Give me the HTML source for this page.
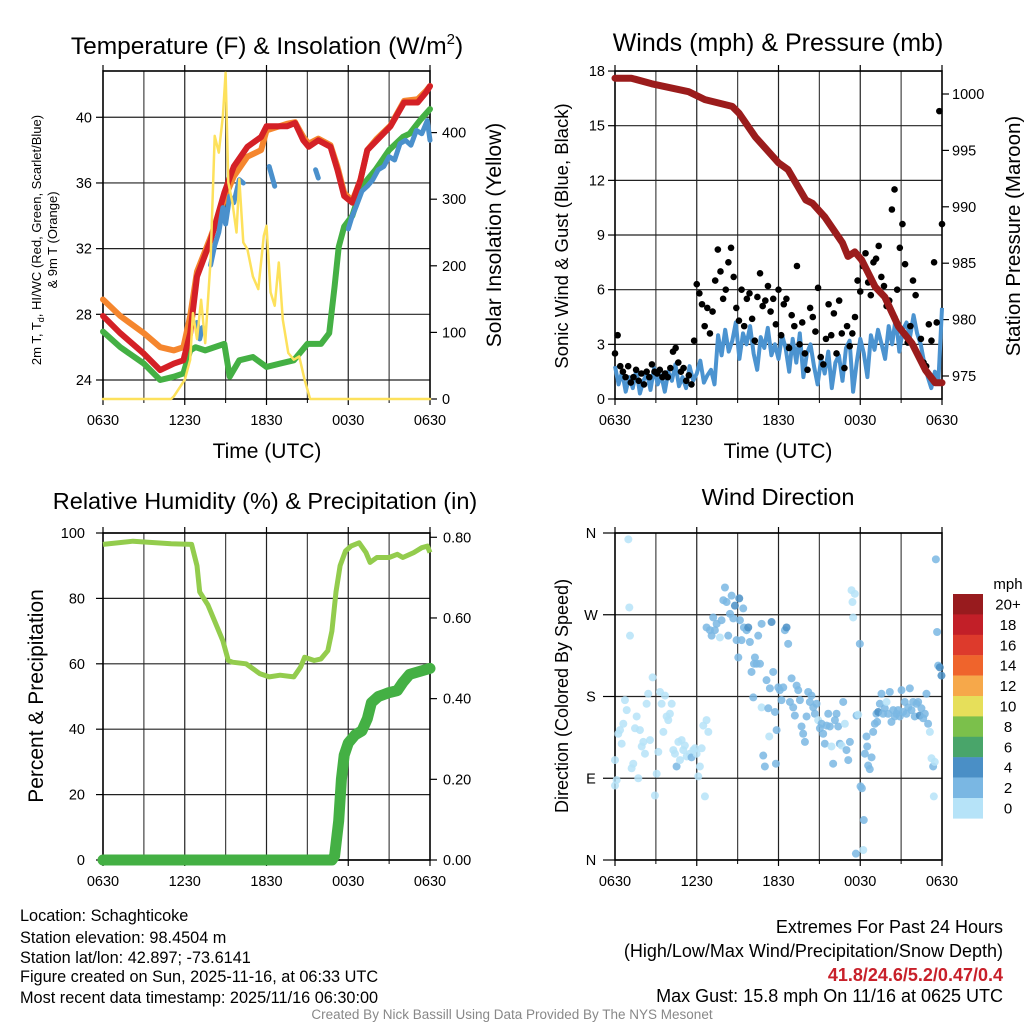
<!DOCTYPE html>
<html><head><meta charset="utf-8">
<style>
html,body{margin:0;padding:0;background:#fff;}
svg{display:block;font-family:"Liberation Sans",Arial,sans-serif;}
</style></head>
<body>
<svg id="chart" width="1024" height="1024" viewBox="0 0 1024 1024" xmlns="http://www.w3.org/2000/svg">
<rect width="1024" height="1024" fill="#fff"/>
<g id="p1"></g>
<g id="p2"></g>
<g id="p3"></g>
<g id="p4"></g>

<text x="267" y="54" font-size="24.5" text-anchor="middle">Temperature (F) &amp; Insolation (W/m<tspan font-size="15" dy="-10">2</tspan><tspan dy="10">)</tspan></text>
<text x="778" y="51" font-size="25" text-anchor="middle">Winds (mph) &amp; Pressure (mb)</text>
<text x="265" y="509" font-size="23.5" text-anchor="middle">Relative Humidity (%) &amp; Precipitation (in)</text>
<text x="778" y="505" font-size="23.5" text-anchor="middle">Wind Direction</text>

<text x="267" y="458" font-size="21" text-anchor="middle">Time (UTC)</text>
<text x="778" y="458" font-size="21" text-anchor="middle">Time (UTC)</text>

<g font-size="13" text-anchor="middle">
<text transform="translate(41,240) rotate(-90)">2m T, T<tspan font-size="9" dy="3">d</tspan><tspan dy="-3">, HI/WC (Red, Green, Scarlet/Blue)</tspan></text>
<text transform="translate(57,240) rotate(-90)">&amp; 9m T (Orange)</text>
</g>
<text transform="translate(501,235) rotate(-90)" font-size="21" text-anchor="middle">Solar Insolation (Yellow)</text>
<text transform="translate(568,236) rotate(-90)" font-size="18.5" text-anchor="middle">Sonic Wind &amp; Gust (Blue, Black)</text>
<text transform="translate(1020,236) rotate(-90)" font-size="20.5" text-anchor="middle">Station Pressure (Maroon)</text>
<text transform="translate(43,696) rotate(-90)" font-size="21" text-anchor="middle">Percent &amp; Precipitation</text>
<text transform="translate(568,696) rotate(-90)" font-size="18" text-anchor="middle">Direction (Colored By Speed)</text>

<g font-size="16.3">
<text x="20" y="921">Location: Schaghticoke</text>
<text x="20" y="943">Station elevation: 98.4504 m</text>
<text x="20" y="963">Station lat/lon: 42.897; -73.6141</text>
<text x="20" y="982">Figure created on Sun, 2025-11-16, at 06:33 UTC</text>
<text x="20" y="1003">Most recent data timestamp: 2025/11/16 06:30:00</text>
</g>
<g font-size="18" text-anchor="end">
<text x="1003" y="933">Extremes For Past 24 Hours</text>
<text x="1003" y="957">(High/Low/Max Wind/Precipitation/Snow Depth)</text>
<text x="1003" y="981" fill="#c8202a" font-weight="bold">41.8/24.6/5.2/0.47/0.4</text>
<text x="1003" y="1002">Max Gust: 15.8 mph On 11/16 at 0625 UTC</text>
</g>
<text x="512" y="1019" font-size="13.5" fill="#888" text-anchor="middle">Created By Nick Bassill Using Data Provided By The NYS Mesonet</text>
</svg>
<script>
// ---------- data ----------
const xTickLabels = ["0630","1230","1830","0030","0630"];
const redT = [0,1.27,3,4.2,5.2,5.9,6.4,6.9,7.9,8.9,9.6,10.6,11.6,12,13.5,14.1,14.7,15.1,15.8,16.7,17.2,17.7,18.3,18.9,19.4,20.1,21.1,22.1,23.1,23.7,24];
const redV = [27.9,26.85,25.6,24.6,25.0,25.2,26.85,30.3,32.5,35.4,37.0,38.2,38.8,39.45,39.45,39.65,38.6,38.2,38.6,38.2,36.8,35.2,34.8,36.2,38.0,38.6,39.45,40.9,40.9,41.5,41.9];
const orangeT = [0,1.27,3,4.2,5.2,5.9,6.4,6.9,7.9,8.9,9.6,10.6,11.6,12,13.5,14.1,14.7,15.1,15.8,16.7,17.2,17.7,18.3,18.9,19.4,20.1,21.1,22.1,23.1,23.7,24];
const orangeV = [28.9,27.9,26.85,26.0,25.8,26.0,27.9,30.6,32.7,35.0,36.4,37.6,38.0,39.2,39.6,39.7,38.8,38.4,38.7,38.3,37.0,35.4,34.9,36.2,38.0,38.7,39.5,41.0,41.1,41.6,41.9];
const greenT = [0,1.27,3,4.2,5.2,5.9,6.4,6.8,7.5,8.9,9.3,10,11,12,13,14,15,16,16.6,17,17.3,17.7,18.3,19,20,21,22,22.5,23.3,24];
const greenV = [26.95,26.0,25.0,24.0,24.2,24.4,25.8,26.0,25.8,26.2,24.2,25.2,25.4,24.8,25.0,25.2,26.2,26.2,26.85,29.7,32.1,33.35,34.0,35.8,36.8,38.0,38.8,39.0,39.85,40.5];
const blueT = [6.9,7.1,7.3,null,7.9,8.2,8.5,8.8,9.0,9.3,9.6,10.0,10.3,null,12.2,12.4,12.6,null,15.6,15.8,null,18.0,18.3,18.6,19.0,19.4,19.8,20.2,20.6,21.0,21.4,21.8,22.2,22.6,23.0,23.4,23.8,24];
const blueV = [27.5,26.5,27.2,null,31.0,32.2,33.0,34.5,33.5,35.2,34.8,36.2,36.0,null,37.0,36.4,35.8,null,36.8,36.3,null,33.2,34.0,34.6,35.5,35.8,36.2,36.8,37.0,37.6,37.4,38.4,38.6,38.3,39.2,39.0,39.8,38.6];
const solarT = [0,5,5.2,6,6.4,6.6,6.9,7.2,7.5,7.9,8.2,8.5,8.8,9.0,9.2,9.5,9.8,10,10.3,10.6,11,11.4,11.8,12,12.3,12.6,12.9,13.2,13.6,14,14.4,14.8,15.2,24];
const solarV = [0,0,4,29,59,129,90,149,84,209,395,370,425,490,325,295,250,330,235,225,184,165,245,260,160,140,205,119,69,59,64,29,0,0];
const windSpd = [1.8,0.8,1.5,0.4,1.2,0.6,1.6,0.3,1.0,1.4,0.5,1.7,0.8,1.3,0.4,1.5,1.0,1.9,0.7,1.2,0.6,1.8,1.0,1.4,2.1,0.9,1.3,1.6,0.8,
 3.5,2.4,3.8,2.6,3.2,4.2,2.2,3.6,3.0,4.0,2.5,1.6,3.4,2.8,3.9,2.4,3.0,2.2,3.5,
 2.8,1.5,3.3,2.0,3.6,1.2,2.5,3.0,1.8,0.8,2.2,1.4,2.6,0.6,2.0,
 2.4,1.0,2.8,3.2,0.4,2.0,3.3,2.5,1.2,3.5,2.7,3.8,3.0,2.2,4.0,
 3.0,4.5,2.6,3.8,4.2,3.4,4.6,3.6,3.0,2.0,1.2,0.6,1.5,1.0,5.0];
const gustSpd = [2.5,3.5,1.8,1.5,1.2,1.8,0.9,1.2,1.6,1.0,1.4,0.8,1.5,1.2,1.9,1.5,1.4,1.6,1.2,1.4,1.2,1.7,2.6,2.8,2.0,1.5,1.7,1.0,1.3,0.8,
 3.2,6.3,5.8,5.2,4.0,5.0,3.6,4.8,6.5,8.2,7.0,5.5,6.0,7.5,8.3,6.7,5.0,4.3,6.0,4.0,5.5,5.8,4.4,3.2,5.6,6.9,5.1,5.4,
 6.2,4.8,5.5,4.1,6.0,3.5,5.2,5.5,2.8,4.6,4.0,7.3,3.0,4.2,2.5,1.6,5.0,4.5,3.7,6.1,
 2.3,1.9,3.3,5.2,3.5,4.7,2.5,5.4,3.6,1.7,4.0,2.9,3.6,4.5,6.5,5.9,7.3,8.0,
 6.4,5.7,7.5,7.7,8.4,6.7,6.2,5.1,5.4,10.4,11.5,6.0,8.3,9.6,7.4,3.1,4.0,6.5,5.7,2.4,3.3,2.0,1.8,4.1,3.2,7.5,4.2,15.8,9.6];
const presT = [0,1.2,2.7,5.4,6.6,8.6,9.1,10.3,12,12.7,14,14.5,15.4,16.7,17.1,17.6,18.1,19.1,19.8,20.8,21.8,22.8,23.5,24];
const presV = [1001.4,1001.4,1000.9,1000.2,999.5,998.9,998.3,996.2,993.9,993.3,990.6,990.3,989.1,986.8,985.6,986.0,985.3,982.9,982.0,979.4,977.9,975.5,974.4,974.4];
const rhT = [0,2.2,5,6.5,6.9,7.1,7.7,8.3,8.8,9.2,9.5,10.5,11.5,12.2,13,14,14.5,14.8,15.5,16,16.5,16.8,17.1,17.4,17.8,18.2,18.8,19.3,19.6,20.1,21,21.6,22,22.8,23.4,23.8,24];
const rhV = [96.5,97.5,96.7,96.5,90,82,78,72,67,61,60.5,60,57,56,56.5,56,59,62,61,61.5,64,70,82,90,94.5,96,97,94,91,92.5,92.5,93.5,92.5,94,95.5,96,94];
const precT = [0,16.8,17.0,17.3,17.5,17.7,18,18.5,19,19.4,19.7,20.2,21,21.6,22,22.5,24];
const precV = [0,0,0.01,0.097,0.2,0.26,0.29,0.31,0.32,0.35,0.39,0.405,0.415,0.42,0.44,0.46,0.475];
const dirT = [0,0.12,0,0.24,0.37,0.49,0.61,0.73,0.86,0.98,1.05,1.1,1.22,1.34,1.47,1.59,1.71,1.83,1.96,2.08,2.2,2.32,2.44,2.57,2.76,2.93,3.06,3.18,3.3,3.42,3.55,3.67,3.79,3.91,4.03,4.16,4.28,4.4,4.52,4.65,4.77,4.89,5.01,5.13,5.26,5.5,5.62,5.75,5.87,5.99,6.11,6.23,6.36,6.48,6.6,6.72,6.85,
 6.72,6.97,7.09,7.21,7.33,7.46,7.7,7.82,7.95,8.07,8.19,8.31,8.44,8.56,8.68,8.8,8.92,9.05,9.12,9.17,9.29,9.41,9.46,9.66,9.78,9.9,10.02,10.15,10.2,10.27,10.39,10.51,10.64,10.76,10.76,10.88,11,11.12,11.25,11.32,11.37,11.49,11.61,11.74,11.81,11.86,11.98,12.1,12.22,12.35,12.47,12.59,12.71,12.84,12.96,13.08,13.2,13.33,13.45,13.57,13.69,13.81,13.94,14.06,14.18,14.3,14.42,14.55,14.67,14.79,14.91,15.04,15.16,15.28,15.4,15.53,15.65,15.77,15.89,16.01,16.14,16.26,16.38,16.5,16.63,16.75,16.87,16.99,17.12,17.24,17.36,17.43,17.48,17.6,17.68,17.73,17.85,17.97,18.02,18.12,18.22,18.26,18.34,18.46,18.51,18.58,18.7,18.83,18.95,19.07,19.19,19.24,19.32,19.44,19.56,19.68,19.8,19.93,20.05,20.17,20.29,20.42,20.54,20.66,20.78,20.9,21.03,21.15,21.27,21.39,21.52,21.64,21.76,21.88,22.0,22.13,22.25,22.37,22.49,22.62,22.74,22.86,22.98,23.11,23.23,23.35,23.4,23.47,23.55,23.64,23.72,23.84,23.96];
const dirDeg = [110,88,82,139,143,128,150,176,165,353,278,247,101,106,145,158,90,143,125,130,117,172,183,132,201,71,95,119,185,172,141,181,158,154,161,172,121,117,103,130,110,132,121,126,114,117,113,121,123,117,92,103,123,148,70,154,141,
 256,253,247,267,253,260,245,264,286,300,284,247,271,291,266,280,242,223,288,264,242,277,256,253,256,240,207,179,216,223,216,247,216,260,168,115,103,198,167,136,189,262,207,163,106,143,190,187,176,190,253,256,238,174,200,168,159,192,187,176,147,139,130,158,185,174,181,168,161,172,154,145,150,139,128,148,161,147,125,106,154,161,147,128,126,174,150,121,110,130,297,284,267,293,7,159,160,238,81,79,11,44,117,136,125,104,100,113,141,150,161,152,163,172,183,161,167,174,161,185,152,165,158,161,165,158,187,163,174,161,168,189,165,174,158,172,174,159,167,156,161,183,150,141,112,103,70,108,331,251,214,212,203];
const dirSpd = [1,1,1,1,1,1,1,1,1,1,1,1,1,1,1,1,1,1,1,1,1,1,1,1,1,1,1,1,1,1,1,1,1,1,1,1,1,1,3,1,1,1,1,1,1,1,3,1,1,1,1,1,1,1,1,1,1,
 3,3,3,3,3,3,1,3,3,3,3,3,3,3,3,4.5,3,3,4.5,3,3,3,3,3,4.5,3,3,3,3,3,3,3,3,3,1,3,3,3,3,1,3,4.5,3,3,3,3,3,3,3,3,3,4.5,3,3,3,3,3,3,3,3,3,3,3,3,3,3,3,3,3,3,1,3,3,3,3,3,3,3,1,3,3,3,3,3,1,3,1,3,3,3,1,1,1,1,3,3,1,3,3,3,1,3,3,3,3,3,3,3,3,3,3,3,4.5,3,3,3,3,1,3,3,3,3,3,3,3,3,3,3,3,3,3,3,3,3,3,3,3,4.5,3,3,3,3,3,1,1,3,1,1,3,3,3,4.5];
const cbLabels = ["20+","18","16","14","12","10","8","6","4","2","0"];
const cbColors = ["#981b1e","#c21f28","#dd3a2c","#ef642c","#f6a84a","#e6df5a","#7bc04b","#49a56a","#4a8fc6","#7ab7e3","#b6e3f8"];

// ---------- helpers ----------
const NS = "http://www.w3.org/2000/svg";
function mk(parent, tag, attrs){const e=document.createElementNS(NS,tag);for(const k in attrs)e.setAttribute(k,attrs[k]);parent.appendChild(e);return e;}
function line(parent,x1,y1,x2,y2,stroke,w){return mk(parent,"line",{x1,y1,x2,y2,stroke,"stroke-width":w});}
function txt(parent,x,y,s,size,anchor){const t=mk(parent,"text",{x,y,"font-size":size,"text-anchor":anchor||"middle"});t.textContent=s;return t;}
function pathFrom(ts,vs,fx,fy){let d="",pen=false;for(let i=0;i<ts.length;i++){if(ts[i]===null||vs[i]===null){pen=false;continue;}d+=(pen?"L":"M")+fx(ts[i]).toFixed(1)+","+fy(vs[i]).toFixed(1);pen=true;}return d;}
function frame(g,L,T,R,B,hys,xlY){
  for(let k=1;k<8;k++){const x=L+(R-L)*k/8;line(g,x,T,x,B,k%2?"#444":"#222",1.2);}
  hys.forEach(y=>{line(g,L,y,R,y,"#222",1.2);});
  const r=mk(g,"rect",{x:L,y:T,width:R-L,height:B-T,fill:"none",stroke:"#000","stroke-width":1.6});
  
  
  xTickLabels.forEach((s,i)=>{const x=L+(R-L)*i/4;line(g,x,B,x,B+6,"#000",1.2);line(g,x,T,x,T-6,"#000",1.2);
    const t=txt(g,x,xlY,s,14.5);
    
    });
  for(let k=1;k<8;k+=2){const x=L+(R-L)*k/8;line(g,x,B,x,B+4,"#000",1);}
}

// ---------- panel 1 ----------
(function(){
  const g=document.getElementById("p1");
  const L=103,T=71,R=430,B=399;
  const x=t=>L+t/24*(R-L), y=v=>380-(v-24)*16.42, yr=v=>B-v*0.666;
  const ticks=[24,28,32,36,40];
  frame(g,L,T,R,B,ticks.map(y),425);
  ticks.forEach(v=>{line(g,L-7,y(v),L,y(v),"#000",1.2);const t=txt(g,L-11,y(v)+5,String(v),14.5,"end");
    
    });
  [0,100,200,300,400].forEach(v=>{line(g,R,yr(v),R+7,yr(v),"#000",1.2);const t=txt(g,R+12,yr(v)+5,String(v),14.5,"start");
    
    });
  const mkLine=(ts,vs,fy,col,w,name)=>{const p=mk(g,"path",{d:pathFrom(ts,vs,x,fy),fill:"none",stroke:col,"stroke-width":w,"stroke-linejoin":"round","stroke-linecap":"round"});
    
    };
  mkLine(greenT,greenV,y,"#44b044",6,"dewpoint-line");
  mkLine(orangeT,orangeV,y,"#f5862e",6,"temp-9m-line");
  mkLine(redT,redV,y,"#d42026",6,"temp-2m-line");
  mkLine(blueT,blueV,y,"#4a90cc",5,"windchill-line");
  mkLine(solarT,solarV,yr,"#fde15c",2.5,"insolation-line");
})();

// ---------- panel 2 ----------
(function(){
  const g=document.getElementById("p2");
  const L=615,T=71,R=942,B=399;
  const x=t=>L+t/24*(R-L), y=v=>B-v*18.22, yp=v=>94+(1000-v)*11.28;
  const ticks=[0,3,6,9,12,15,18];
  frame(g,L,T,R,B,ticks.map(y),425);
  ticks.forEach(v=>{line(g,L-7,y(v),L,y(v),"#000",1.2);const t=txt(g,L-10,y(v)+5,String(v),14.5,"end");
    
    });
  [975,980,985,990,995,1000].forEach(v=>{line(g,R,yp(v),R+7,yp(v),"#000",1.2);const t=txt(g,R+10,yp(v)+5,String(v),14.5,"start");
    
    });
  const wT=windSpd.map((_,i)=>i*24/(windSpd.length-1));
  const wl=mk(g,"path",{d:pathFrom(wT,windSpd,x,y),fill:"none",stroke:"#4b93d0","stroke-width":4,"stroke-linejoin":"round"});
  
  
  gustSpd.forEach((v,i)=>{const c=mk(g,"circle",{cx:x(i*24/(gustSpd.length-1)),cy:y(v),r:3.3,fill:"#000"});
    
    });
  const pl=mk(g,"path",{d:pathFrom(presT,presV,x,yp),fill:"none",stroke:"#9b1c1c","stroke-width":7,"stroke-linejoin":"round","stroke-linecap":"round"});
  
  
})();

// ---------- panel 3 ----------
(function(){
  const g=document.getElementById("p3");
  const L=103,T=533,R=430,B=860;
  const x=t=>L+t/24*(R-L), y=v=>B-v*3.27, yr=v=>B-v*403.4;
  const ticks=[0,20,40,60,80,100];
  frame(g,L,T,R,B,ticks.map(y),886);
  ticks.forEach(v=>{line(g,L-7,y(v),L,y(v),"#000",1.2);const t=txt(g,L-18,y(v)+5,String(v),14.5,"end");
    
    });
  [0,0.2,0.4,0.6,0.8].forEach(v=>{line(g,R,yr(v),R+7,yr(v),"#000",1.2);const t=txt(g,R+13,yr(v)+5,v.toFixed(2),14.5,"start");
    
    });
  const rl=mk(g,"path",{d:pathFrom(rhT,rhV,x,y),fill:"none",stroke:"#93cc4d","stroke-width":5,"stroke-linejoin":"round"});
  
  
  const pr=mk(g,"path",{d:pathFrom(precT,precV,x,yr),fill:"none",stroke:"#44b044","stroke-width":11,"stroke-linejoin":"round","stroke-linecap":"round"});
  
  
})();

// ---------- panel 4 ----------
(function(){
  const g=document.getElementById("p4");
  const L=615,T=533,R=942,B=860;
  const x=t=>L+t/24*(R-L), y=d=>B-d*(B-T)/360;
  const ticks=[0,90,180,270,360], lab=["N","E","S","W","N"];
  frame(g,L,T,R,B,ticks.map(y),886);
  ticks.forEach((v,i)=>{line(g,L-12,y(v),L,y(v),"#000",1.2);const t=txt(g,L-24,y(v)+5,lab[i],14.5,"middle");
    
    });
  dirT.forEach((t,i)=>{const s=dirSpd[i];const col=s<2?"#b6e3f8":(s<4?"#7ab7e3":"#4a8fc6");
    const c=mk(g,"circle",{cx:x(t),cy:y(dirDeg[i]),r:4,fill:col,"fill-opacity":0.85});
    
    });
  const cb=mk(g,"g",{});
  
  
  const t0=txt(cb,1008,589,"mph",15,"middle");
  
  
  cbLabels.forEach((s,i)=>{const yy=594+i*20.4;
    const r=mk(cb,"rect",{x:953,y:yy,width:30,height:20.6,fill:cbColors[i]});
    
    
    const t=txt(cb,1008,yy+15.5,s,15,"middle");
    
    });
})();
</script>
</body></html>
